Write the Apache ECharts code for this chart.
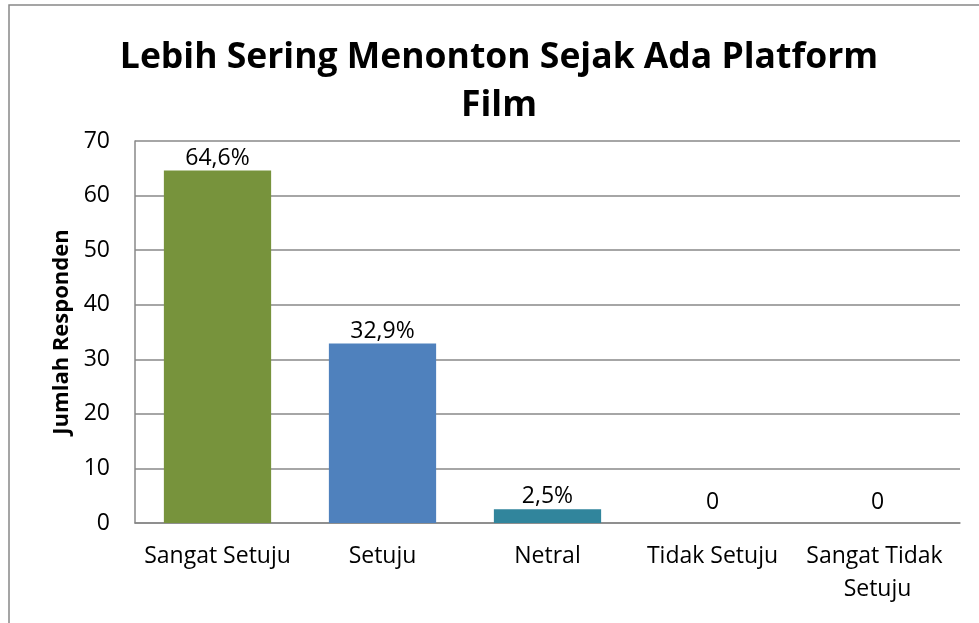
<!DOCTYPE html>
<html>
<head>
<meta charset="utf-8">
<script src="https://cdn.jsdelivr.net/npm/echarts@6/dist/echarts.min.js"></script>
<style>
  html, body { margin: 0; padding: 0; background: #fff; }
  #main { width: 979px; height: 623px; }
</style>
</head>
<body>
<div id="main"></div>
<script>
// data
var categories = ['Sangat Setuju', 'Setuju', 'Netral', 'Tidak Setuju', 'Sangat Tidak Setuju'];
var values = [64.6, 32.9, 2.5, 0, 0];
var labels = ['64,6%', '32,9%', '2,5%', '0', '0'];
var barColors = ['#77933C', '#4F81BD', '#31859C', '#4F81BD', '#4F81BD'];
var yTicks = [0, 10, 20, 30, 40, 50, 60, 70];

var font = 'Open Sans';
var chart = echarts.init(document.getElementById('main'));

var barData = values.map(function (v, i) {
  return {
    value: v,
    itemStyle: { color: barColors[i] },
    label: { distance: v === 0 ? 9 : 1 }
  };
});

chart.setOption({
  animation: false,
  title: {
    text: 'Lebih Sering Menonton Sejak Ada Platform\nFilm',
    left: 494,
    textAlign: 'center',
    top: 29,
    textStyle: {
      fontFamily: font,
      fontWeight: 'bold',
      fontSize: 35.5,
      lineHeight: 48,
      color: '#000'
    }
  },
  graphic: [{
    type: 'rect',
    shape: { x: 9, y: 5, width: 1000, height: 700 },
    style: { fill: 'none', stroke: '#888', lineWidth: 1.5 },
    silent: true
  }],
  grid: { left: 135, right: 19, top: 141, bottom: 100 },
  xAxis: {
    type: 'category',
    data: categories,
    axisLine: { show: true, lineStyle: { color: '#888', width: 1.5 } },
    axisTick: { show: false },
    axisLabel: {
      fontFamily: font,
      fontSize: 23,
      color: '#000',
      margin: 17,
      lineHeight: 33,
      width: 162,
      overflow: 'break',
      interval: 0
    }
  },
  yAxis: {
    type: 'value',
    min: yTicks[0],
    max: yTicks[yTicks.length - 1],
    interval: 10,
    name: 'Jumlah Responden',
    nameLocation: 'middle',
    nameGap: 60,
    nameTextStyle: {
      fontFamily: font,
      fontWeight: 'bold',
      fontSize: 22,
      color: '#000'
    },
    axisLine: { show: true, lineStyle: { color: '#888', width: 1.5 } },
    axisTick: { show: false },
    splitLine: { lineStyle: { color: '#888', width: 1.5 } },
    axisLabel: {
      fontFamily: font,
      fontSize: 23,
      color: '#000',
      margin: 25
    }
  },
  series: [{
    type: 'bar',
    data: barData,
    barWidth: '65%',
    label: {
      show: true,
      position: 'top',
      fontFamily: font,
      fontSize: 23,
      color: '#000',
      formatter: function (p) { return labels[p.dataIndex]; }
    }
  }]
});
</script>
</body>
</html>
